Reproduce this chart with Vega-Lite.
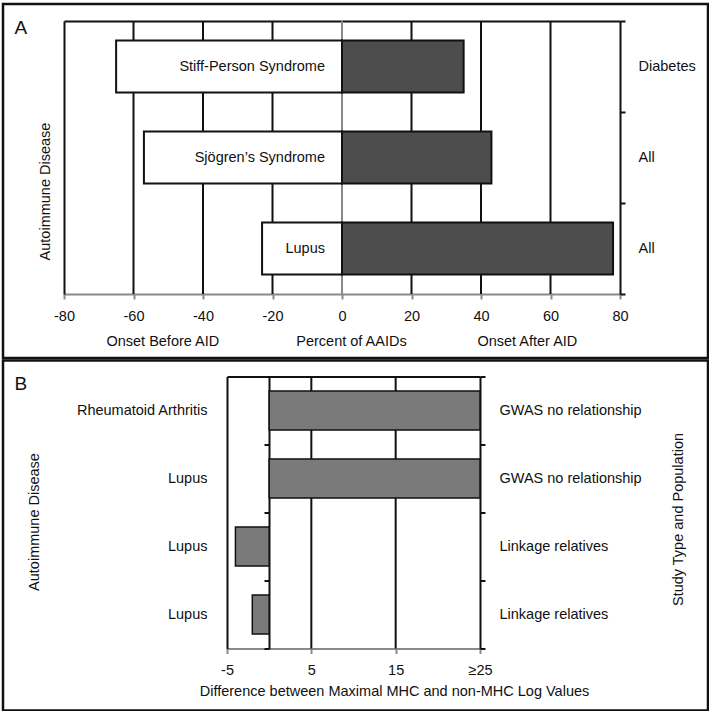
{
  "$schema": "https://vega.github.io/schema/vega-lite/v6.json",
  "padding": {"left": 1, "top": 2, "right": 0, "bottom": 0},
  "spacing": -1.5,
  "config": {
    "font": "Liberation Sans",
    "view": {"stroke": "#111", "strokeWidth": 2.5},
    "axis": {
      "labelFont": "Liberation Sans", "titleFont": "Liberation Sans",
      "labelFontSize": 14.5, "titleFontSize": 14.5,
      "labelColor": "#111", "titleColor": "#111", "titleFontWeight": "normal",
      "domainColor": "#111", "domainWidth": 2, "tickColor": "#111", "tickWidth": 2,
      "grid": false, "labelFlush": false, "labelOverlap": false
    }
  },
  "datasets": {
    "gridA": [{"v": -60}, {"v": -40}, {"v": -20}, {"v": 0}, {"v": 20}, {"v": 40}, {"v": 60}],
    "gridB": [{"v": 5}, {"v": 15}]
  },
  "vconcat": [
    {
      "width": 705, "height": 354,
      "data": {"values": [
        {"disease": "Stiff-Person Syndrome", "population": "Diabetes", "before": -65, "after": 35},
        {"disease": "Sjögren’s Syndrome", "population": "All", "before": -57, "after": 43},
        {"disease": "Lupus", "population": "All", "before": -23, "after": 78}
      ]},
      "resolve": {"axis": {"x": "independent", "y": "independent"}},
      "layer": [
        {
          "data": {"name": "gridA"},
          "mark": {"type": "tick", "size": 273, "thickness": 2, "opacity": 1, "orient": "vertical"},
          "encoding": {
            "x": {"field": "v", "type": "quantitative", "axis": null},
            "y": {"datum": "Sjögren’s Syndrome", "type": "nominal", "axis": null},
            "color": {"condition": {"test": "datum.v === 0", "value": "#8a8a8a"}, "value": "#111"}
          }
        },
        {
          "mark": {"type": "bar", "fill": "white", "stroke": "#111", "strokeWidth": 2, "height": {"band": 0.57}},
          "encoding": {
            "x": {"field": "before", "type": "quantitative",
              "scale": {"domain": [-80, 80], "range": [61, 617], "nice": false, "zero": false},
              "axis": {"orient": "bottom", "offset": -64, "values": [-80, -60, -40, -20, 0, 20, 40, 60, 80],
                "labelExpr": "'' + datum.value",
                "domainColor": "#8a8a8a", "tickColor": "#8a8a8a", "tickSize": 5, "labelPadding": 17, "labelBaseline": "middle",
                "title": "Percent of AAIDs", "titleX": 348, "titleY": 47, "titleBaseline": "middle", "titleAlign": "center"}},
            "x2": {"datum": 0},
            "y": {"field": "disease", "type": "nominal", "sort": null,
              "scale": {"domain": ["Stiff-Person Syndrome", "Sjögren’s Syndrome", "Lupus"], "range": [17, 290], "paddingInner": 0, "paddingOuter": 0},
              "axis": {"orient": "left", "offset": -61, "labels": false, "ticks": false, "tickSize": 0,
                "title": "Autoimmune Disease", "titleX": -18.5, "titleY": 187, "titleAngle": 270,
                "titleBaseline": "middle", "titleAlign": "center"}}
          }
        },
        {
          "mark": {"type": "bar", "fill": "#4d4d4d", "stroke": "#111", "strokeWidth": 2, "height": {"band": 0.57}},
          "encoding": {
            "x": {"field": "after", "type": "quantitative",
              "axis": {"orient": "bottom", "offset": -64, "values": [-51.7, 53.2],
                "labelExpr": "datum.value < 0 ? 'Onset Before AID' : 'Onset After AID'",
                "ticks": false, "tickSize": 0, "domain": false,
                "labelPadding": 47, "labelBaseline": "middle", "title": null}},
            "x2": {"datum": 0},
            "y": {"field": "disease", "type": "nominal", "sort": null,
              "axis": {"orient": "right", "offset": -88, "tickBand": "extent", "tickSize": 5, "labels": false, "title": null}}
          }
        },
        {
          "mark": {"type": "text", "align": "right", "baseline": "middle", "dx": -17, "fontSize": 14.5, "color": "#111"},
          "encoding": {
            "x": {"datum": 0,
              "axis": {"orient": "top", "offset": -17, "labels": false, "ticks": false, "tickSize": 0,
                "domain": true, "title": "A", "titleX": 11, "titleY": 12, "titleAlign": "left",
                "titleBaseline": "alphabetic", "titleFontSize": 19, "titleAngle": 0}},
            "y": {"field": "disease", "type": "nominal", "sort": null,
              "axis": {"orient": "right", "offset": -88, "ticks": false, "tickSize": 0, "domain": false, "labelPadding": 18,
                "labelExpr": "datum.value === 'Stiff-Person Syndrome' ? 'Diabetes' : 'All'",
                "labelAlign": "left", "labelBaseline": "middle", "title": null}},
            "text": {"field": "disease"}
          }
        }
      ]
    },
    {
      "width": 705, "height": 350,
      "data": {"values": [
        {"row": "1", "disease": "Rheumatoid Arthritis", "study": "GWAS no relationship", "diff": 25},
        {"row": "2", "disease": "Lupus", "study": "GWAS no relationship", "diff": 25},
        {"row": "3", "disease": "Lupus", "study": "Linkage relatives", "diff": -4},
        {"row": "4", "disease": "Lupus", "study": "Linkage relatives", "diff": -2}
      ]},
      "resolve": {"axis": {"x": "independent", "y": "independent"}},
      "layer": [
        {
          "data": {"name": "gridB"},
          "mark": {"type": "tick", "size": 272, "thickness": 2, "opacity": 1, "color": "#111", "yOffset": 34, "orient": "vertical"},
          "encoding": {
            "x": {"field": "v", "type": "quantitative", "axis": null},
            "y": {"datum": "2", "type": "nominal", "axis": null}
          }
        },
        {
          "mark": {"type": "bar", "fill": "#7a7a7a", "stroke": "#111", "strokeWidth": 1.5, "height": {"band": 0.57}},
          "encoding": {
            "x": {"field": "diff", "type": "quantitative",
              "scale": {"domain": [-5, 25], "range": [224, 477], "nice": false, "zero": false},
              "axis": {"orient": "bottom", "offset": -62, "values": [-5, 5, 15, 25],
                "labelExpr": "datum.value >= 25 ? '≥25' : '' + datum.value",
                "domainColor": "#8a8a8a", "tickColor": "#8a8a8a", "tickSize": 5, "labelPadding": 17, "labelBaseline": "middle",
                "title": "Difference between Maximal MHC and non-MHC Log Values", "titleX": 391, "titleY": 43,
                "titleBaseline": "middle", "titleAlign": "center"}},
            "x2": {"datum": 0},
            "y": {"field": "row", "type": "nominal", "sort": null,
              "scale": {"domain": ["1", "2", "3", "4"], "range": [16, 288], "paddingInner": 0, "paddingOuter": 0},
              "axis": {"orient": "left", "offset": -224, "ticks": false, "tickSize": 0, "labelPadding": 20,
                "labelExpr": "datum.value === '1' ? 'Rheumatoid Arthritis' : 'Lupus'",
                "labelAlign": "right", "labelBaseline": "middle",
                "title": "Autoimmune Disease", "titleX": -193, "titleY": 161, "titleAngle": 270,
                "titleBaseline": "middle", "titleAlign": "center"}}
          }
        },
        {
          "mark": {"type": "bar", "opacity": 0, "height": {"band": 0.57}},
          "encoding": {
            "x": {"field": "diff", "type": "quantitative",
              "axis": {"orient": "top", "offset": -16, "labels": false, "ticks": false, "tickSize": 0,
                "domain": true, "title": "B", "titleX": 11, "titleY": 13, "titleAlign": "left",
                "titleBaseline": "alphabetic", "titleFontSize": 19, "titleAngle": 0}},
            "x2": {"datum": 0},
            "y": {"field": "row", "type": "nominal", "sort": null,
              "axis": {"orient": "right", "offset": -228, "tickBand": "extent", "tickSize": 5, "labels": false, "title": null}}
          }
        },
        {
          "mark": {"type": "bar", "opacity": 0, "height": {"band": 0.57}},
          "encoding": {
            "x": {"field": "diff", "type": "quantitative", "axis": null},
            "x2": {"datum": 0},
            "y": {"field": "row", "type": "nominal", "sort": null,
              "axis": {"orient": "right", "offset": -228, "ticks": false, "tickSize": 0, "domain": false, "labelPadding": 19,
                "labelExpr": "toNumber(datum.value) <= 2 ? 'GWAS no relationship' : 'Linkage relatives'",
                "labelAlign": "left", "labelBaseline": "middle",
                "title": "Study Type and Population", "titleX": 198, "titleY": 158.5, "titleAngle": 270,
                "titleBaseline": "middle", "titleAlign": "center"}}
          }
        },
        {
          "mark": {"type": "bar", "opacity": 0, "height": {"band": 0.57}},
          "encoding": {
            "x": {"field": "diff", "type": "quantitative", "axis": null},
            "x2": {"datum": 0},
            "y": {"field": "row", "type": "nominal", "sort": null,
              "axis": {"orient": "left", "offset": -266, "tickBand": "extent", "tickSize": 5, "labels": false,
                "domain": true, "title": null}}
          }
        }
      ]
    }
  ]
}
